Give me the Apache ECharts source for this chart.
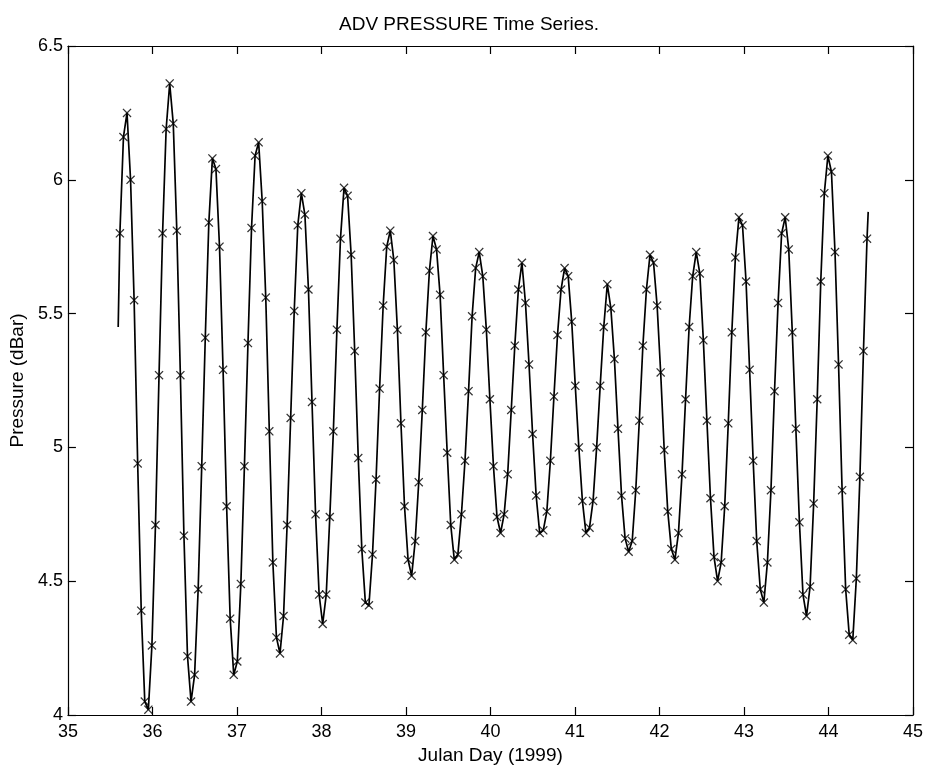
<!DOCTYPE html>
<html style="height: 100%">
    <head>
        <meta charset="utf-8">
        <title>ADV PRESSURE Time Series.</title>
    </head>
    <body style="height: 100%; margin: 0; background: #fff">
        <div id="container" style="width: 926px; height: 770px"></div>

        <script type="text/javascript" src="https://cdn.jsdelivr.net/npm/echarts@6/dist/echarts.min.js"></script>
        <script type="text/javascript">
// hourly ADV samples (the x markers)
var startDay = 35.615;   // julian day of first sample
var stepDay = 0.0421;    // sample spacing in days
var pressure = [
    5.80, 6.16, 6.25, 6.00, 5.55, 4.94, 4.39, 4.05, 4.02, 4.26,
    4.71, 5.27, 5.80, 6.19, 6.36, 6.21, 5.81, 5.27, 4.67, 4.22,
    4.05, 4.15, 4.47, 4.93, 5.41, 5.84, 6.08, 6.04, 5.75, 5.29,
    4.78, 4.36, 4.15, 4.20, 4.49, 4.93, 5.39, 5.82, 6.09, 6.14,
    5.92, 5.56, 5.06, 4.57, 4.29, 4.23, 4.37, 4.71, 5.11, 5.51,
    5.83, 5.95, 5.87, 5.59, 5.17, 4.75, 4.45, 4.34, 4.45, 4.74,
    5.06, 5.44, 5.78, 5.97, 5.94, 5.72, 5.36, 4.96, 4.62, 4.42,
    4.41, 4.60, 4.88, 5.22, 5.53, 5.75, 5.81, 5.70, 5.44, 5.09,
    4.78, 4.58, 4.52, 4.65, 4.87, 5.14, 5.43, 5.66, 5.79, 5.74,
    5.57, 5.27, 4.98, 4.71, 4.58, 4.60, 4.75, 4.95, 5.21, 5.49,
    5.67, 5.73, 5.64, 5.44, 5.18, 4.93, 4.74, 4.68, 4.75, 4.90,
    5.14, 5.38, 5.59, 5.69, 5.54, 5.31, 5.05, 4.82, 4.68, 4.69,
    4.76, 4.95, 5.19, 5.42, 5.59, 5.67, 5.64, 5.47, 5.23, 5.00,
    4.80, 4.68, 4.70, 4.80, 5.00, 5.23, 5.45, 5.61, 5.52, 5.33,
    5.07, 4.82, 4.66, 4.61, 4.65, 4.84, 5.10, 5.38, 5.59, 5.72,
    5.69, 5.53, 5.28, 4.99, 4.76, 4.62, 4.58, 4.68, 4.90, 5.18,
    5.45, 5.64, 5.73, 5.65, 5.40, 5.10, 4.81, 4.59, 4.50, 4.57,
    4.78, 5.09, 5.43, 5.71, 5.86, 5.83, 5.62, 5.29, 4.95, 4.65,
    4.47, 4.42, 4.57, 4.84, 5.21, 5.54, 5.80, 5.86, 5.74, 5.43,
    5.07, 4.72, 4.45, 4.37, 4.48, 4.79, 5.18, 5.62, 5.95, 6.09,
    6.03, 5.73, 5.31, 4.84, 4.47, 4.30, 4.28, 4.51, 4.89, 5.36,
    5.78
];
// the continuous trace starts a little before the first marker and ends after the last
var lineHead = [35.595, 5.45];
var lineTail = [44.47, 5.88];

var xMin = 35, xMax = 45, xStep = 1;
var yMin = 4, yMax = 6.5, yStep = 0.5;

var points = [];
for (var i = 0; i < pressure.length; i++) {
    points.push([startDay + i * stepDay, pressure[i]]);
}
var trace = [lineHead].concat(points, [lineTail]);

var font = 'Liberation Sans, Arial, Helvetica, sans-serif';
var xMark = 'path://M0,1L1,0L5,4L9,0L10,1L6,5L10,9L9,10L5,6L1,10L0,9L4,5Z';

var boxAxis = {
    axisLine: {show: true, lineStyle: {color: '#000', width: 1.2}},
    axisTick: {show: true, inside: true, length: 8, lineStyle: {color: '#000', width: 1.2}},
    splitLine: {show: false}
};

var dom = document.getElementById('container');
var myChart = echarts.init(dom, null, {renderer: 'canvas'});

var option = {
    animation: false,
    backgroundColor: '#fff',
    title: {
        text: 'ADV PRESSURE Time Series.',
        left: 334,
        top: 10,
        textStyle: {fontFamily: font, fontSize: 19, fontWeight: 'normal', color: '#000'}
    },
    grid: {left: 67, right: 13, top: 46, bottom: 53, containLabel: false},
    xAxis: [{
        type: 'value',
        position: 'bottom',
        min: xMin, max: xMax, interval: xStep,
        name: 'Julan Day (1999)',
        nameLocation: 'middle',
        nameGap: 31,
        nameTextStyle: {fontFamily: font, fontSize: 19, color: '#000'},
        axisLine: boxAxis.axisLine,
        axisTick: boxAxis.axisTick,
        splitLine: boxAxis.splitLine,
        axisLabel: {fontFamily: font, fontSize: 18, color: '#000', margin: 8}
    }, {
        type: 'value',
        position: 'top',
        min: xMin, max: xMax, interval: xStep,
        axisLine: boxAxis.axisLine,
        axisTick: boxAxis.axisTick,
        splitLine: boxAxis.splitLine,
        axisLabel: {show: false}
    }],
    yAxis: [{
        type: 'value',
        position: 'left',
        min: yMin, max: yMax, interval: yStep,
        name: 'Pressure (dBar)',
        nameLocation: 'middle',
        nameGap: 36,
        nameTextStyle: {fontFamily: font, fontSize: 19, color: '#000'},
        axisLine: boxAxis.axisLine,
        axisTick: boxAxis.axisTick,
        splitLine: boxAxis.splitLine,
        axisLabel: {fontFamily: font, fontSize: 18, color: '#000', margin: 5}
    }, {
        type: 'value',
        position: 'right',
        min: yMin, max: yMax, interval: yStep,
        axisLine: boxAxis.axisLine,
        axisTick: boxAxis.axisTick,
        splitLine: boxAxis.splitLine,
        axisLabel: {show: false}
    }],
    series: [{
        name: 'trace',
        type: 'line',
        data: trace,
        showSymbol: false,
        lineStyle: {color: '#000', width: 1.7}
    }, {
        name: 'hourly',
        type: 'scatter',
        data: points,
        symbol: xMark,
        symbolSize: 9,
        itemStyle: {color: '#000'}
    }]
};

if (option && typeof option === 'object') {
    myChart.setOption(option);
}
        </script>
    </body>
</html>
